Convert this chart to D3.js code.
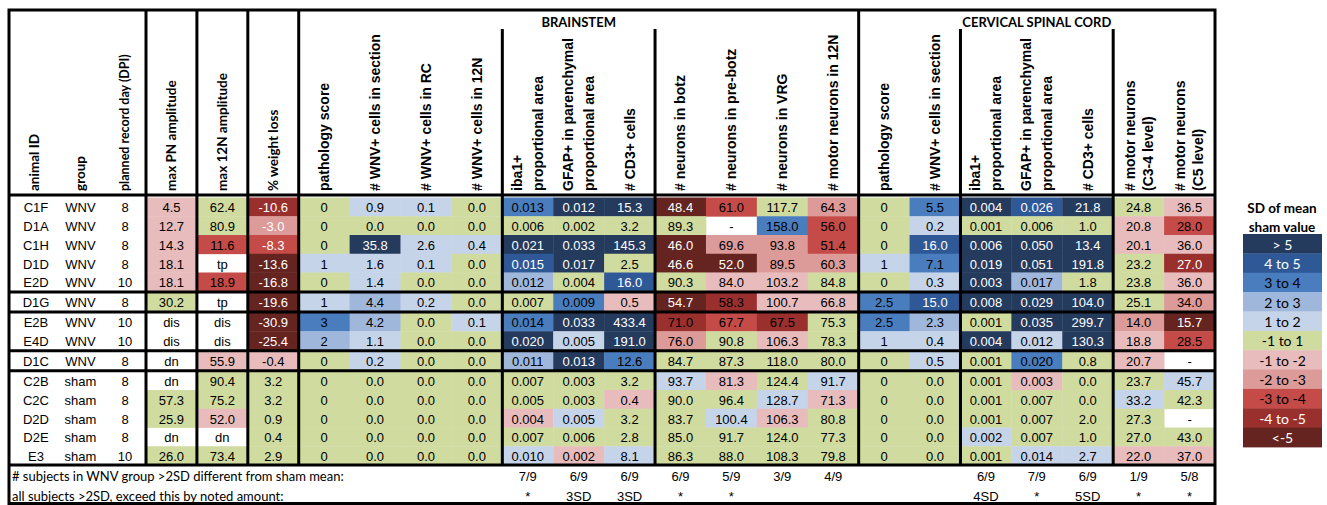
<!DOCTYPE html>
<html>
<head>
<meta charset="utf-8">
<script src="https://cdn.jsdelivr.net/npm/d3@7"></script>
<style>
  body { margin: 0; background: #fff; }
  text { fill: #000; }
</style>
</head>
<body>
<svg id="chart" width="1327" height="505"></svg>
<script>
const animals = ['C1F', 'D1A', 'C1H', 'D1D', 'E2D', 'D1G', 'E2B', 'E4D', 'D1C', 'C2B', 'C2C', 'D2D', 'D2E', 'E3']
const groups = ['WNV', 'WNV', 'WNV', 'WNV', 'WNV', 'WNV', 'WNV', 'WNV', 'WNV', 'sham', 'sham', 'sham', 'sham', 'sham']
const recordDay = ['8', '8', '8', '8', '10', '8', '10', '10', '8', '8', '8', '8', '8', '10']
const rowBlock = [0, 0, 0, 0, 0, 1, 2, 2, 3, 4, 4, 4, 4, 4]

const idHeaders = ['animal ID', 'group', 'planned record day (DPI)']
const columnHeaders = [
  ['max PN amplitude'], ['max 12N amplitude'], ['% weight loss'],
  ['pathology score'], ['# WNV+ cells in section'], ['# WNV+ cells in RC'], ['# WNV+ cells in 12N'],
  ['iba1+', 'proportional area'], ['GFAP+ in parenchymal', 'proportional area'], ['# CD3+ cells'],
  ['# neurons in botz'], ['# neurons in pre-botz'], ['# neurons in VRG'], ['# motor neurons in 12N'],
  ['pathology score'], ['# WNV+ cells in section'],
  ['iba1+', 'proportional area'], ['GFAP+ in parenchymal', 'proportional area'], ['# CD3+ cells'],
  ['# motor neurons', '(C3-4 level)'], ['# motor neurons', '(C5 level)']
]
const regions = [
  {name: 'BRAINSTEM', first: 3, last: 13},
  {name: 'CERVICAL SPINAL CORD', first: 14, last: 20}
]

const values = [
  ['4.5','62.4','-10.6','0','0.9','0.1','0.0','0.013','0.012','15.3','48.4','61.0','117.7','64.3','0','5.5','0.004','0.026','21.8','24.8','36.5'],
  ['12.7','80.9','-3.0','0','0.0','0.0','0.0','0.006','0.002','3.2','89.3','-','158.0','56.0','0','0.2','0.001','0.006','1.0','20.8','28.0'],
  ['14.3','11.6','-8.3','0','35.8','2.6','0.4','0.021','0.033','145.3','46.0','69.6','93.8','51.4','0','16.0','0.006','0.050','13.4','20.1','36.0'],
  ['18.1','tp','-13.6','1','1.6','0.1','0.0','0.015','0.017','2.5','46.6','52.0','89.5','60.3','1','7.1','0.019','0.051','191.8','23.2','27.0'],
  ['18.1','18.9','-16.8','0','1.4','0.0','0.0','0.012','0.004','16.0','90.3','84.0','103.2','84.8','0','0.3','0.003','0.017','1.8','23.8','36.0'],
  ['30.2','tp','-19.6','1','4.4','0.2','0.0','0.007','0.009','0.5','54.7','58.3','100.7','66.8','2.5','15.0','0.008','0.029','104.0','25.1','34.0'],
  ['dis','dis','-30.9','3','4.2','0.0','0.1','0.014','0.033','433.4','71.0','67.7','67.5','75.3','2.5','2.3','0.001','0.035','299.7','14.0','15.7'],
  ['dis','dis','-25.4','2','1.1','0.0','0.0','0.020','0.005','191.0','76.0','90.8','106.3','78.3','1','0.4','0.004','0.012','130.3','18.8','28.5'],
  ['dn','55.9','-0.4','0','0.2','0.0','0.0','0.011','0.013','12.6','84.7','87.3','118.0','80.0','0','0.5','0.001','0.020','0.8','20.7','-'],
  ['dn','90.4','3.2','0','0.0','0.0','0.0','0.007','0.003','3.2','93.7','81.3','124.4','91.7','0','0.0','0.001','0.003','0.0','23.7','45.7'],
  ['57.3','75.2','3.2','0','0.0','0.0','0.0','0.005','0.003','0.4','90.0','96.4','128.7','71.3','0','0.0','0.001','0.007','0.0','33.2','42.3'],
  ['25.9','52.0','0.9','0','0.0','0.0','0.0','0.004','0.005','3.2','83.7','100.4','106.3','80.8','0','0.0','0.001','0.007','2.0','27.3','-'],
  ['dn','dn','0.4','0','0.0','0.0','0.0','0.007','0.006','2.8','85.0','91.7','124.0','77.3','0','0.0','0.002','0.007','1.0','27.0','43.0'],
  ['26.0','73.4','2.9','0','0.0','0.0','0.0','0.010','0.002','8.1','86.3','88.0','108.3','79.8','0','0.0','0.001','0.014','2.7','22.0','37.0']
]

// SD-of-sham-mean band of each cell (null = no fill)
const sdBand = [
  [-1,0,-4,0,1,1,0,3,5,5,-5,-3,0,-2,0,3,5,4,5,0,-1],
  [-1,0,-2,0,0,0,0,0,0,0,0,null,3,-3,0,1,0,0,0,-1,-3],
  [-1,-3,-3,0,5,1,1,5,5,5,-5,-2,-2,-3,0,4,5,5,5,-1,-1],
  [-1,null,-5,1,1,1,0,4,5,0,-5,-5,-2,-2,1,3,5,5,5,0,-4],
  [-1,-3,-5,0,1,0,0,2,0,4,0,-1,-1,0,0,1,5,2,0,0,-1],
  [0,null,-5,1,2,1,0,0,3,-1,-5,-4,-1,-1,3,4,5,5,5,0,-2],
  [null,null,-5,3,2,0,1,3,5,5,-4,-3,-4,0,3,2,0,5,5,-2,-5],
  [null,null,-5,2,1,0,0,5,1,5,-2,0,-1,0,1,1,5,1,5,-1,-3],
  [null,-1,-1,0,1,0,0,2,5,3,0,0,0,0,0,1,0,3,0,-1,null],
  [null,0,0,0,0,0,0,0,0,0,1,-1,0,1,0,0,0,-1,0,0,1],
  [0,0,0,0,0,0,0,0,0,-1,0,0,1,-1,0,0,0,0,0,1,0],
  [0,-1,0,0,0,0,0,-1,1,0,0,1,-1,0,0,0,0,0,0,0,null],
  [null,null,0,0,0,0,0,0,0,0,0,0,0,0,0,0,1,0,0,0,0],
  [0,0,0,0,0,0,0,1,-1,1,0,0,0,0,0,0,0,1,1,-1,-1]
]

const footLabels = ['# subjects in WNV group >2SD different from sham mean:', 'all subjects >2SD, exceed this by noted amount:']
const subjectCounts = ['','','','','','','','7/9','6/9','6/9','6/9','5/9','3/9','4/9','','','6/9','7/9','6/9','1/9','5/8']
const exceedBy = ['','','','','','','','*','3SD','3SD','*','*','','','','','4SD','*','5SD','*','*']

const legendBands = [5, 4, 3, 2, 1, 0, -1, -2, -3, -4, -5]
const legendLabels = ['> 5', '4 to 5', '3 to 4', '2 to 3', '1 to 2', '-1 to 1', '-1 to -2', '-2 to -3', '-3 to -4', '-4 to -5', '<-5']
const legendTitle = ['SD of mean', 'sham value']

// ---- scales ----
const color = d3.scaleOrdinal(legendBands,
  ['#243b5e', '#2f5896', '#4a7dbe', '#a0b7dc', '#c6d4ea', '#d0dba0',
   '#e8bcbc', '#dc9a98', '#c44b47', '#9a302e', '#652420'])

const x = d3.scaleBand(d3.range(columnHeaders.length), [146, 1215])
const idX = d3.scaleOrdinal([0, 1, 2], [34, 80.5, 125])
const rowH = 18.75, blockGap = 1.25
const rowBand = d3.scaleBand(d3.range(animals.length), [197.5, 197.5 + animals.length * rowH])
const rowTop = i => rowBand(i) + rowBlock[i] * blockGap
const legendY = d3.scaleBand(legendBands, [234, 447])

const lightText = (lv, c) => lv >= 4 || lv <= -5 || (lv === -4 && (c < 10 || c > 13)) || (c === 2 && lv <= -2)

const svg = d3.select('#chart')
const arial = '"Liberation Sans", Arial, sans-serif'
const calibri = 'Lato, "Open Sans", sans-serif'

// ---- cells ----
const cells = values.flatMap((row, i) => row.map((v, c) => ({i, c, v, lv: sdBand[i][c]})))

svg.append('g').selectAll('rect')
  .data(cells.filter(d => d.lv !== null))
  .join('rect')
    .attr('x', d => x(d.c))
    .attr('y', d => rowTop(d.i))
    .attr('width', x.bandwidth() + 0.4)
    .attr('height', rowH + 0.4)
    .attr('fill', d => color(d.lv))

svg.append('g').selectAll('text')
  .data(cells)
  .join('text')
    .attr('x', d => x(d.c) + x.bandwidth() / 2)
    .attr('y', d => rowTop(d.i) + rowH / 2 + 1)
    .attr('dy', '0.35em')
    .attr('text-anchor', 'middle')
    .style('font', `13px ${arial}`)
    .style('fill', d => d.lv !== null && lightText(d.lv, d.c) ? '#fff' : '#000')
    .text(d => d.v)

// id columns
const idCols = [animals, groups, recordDay]
idCols.forEach((col, k) => {
  svg.append('g').selectAll('text')
    .data(col)
    .join('text')
      .attr('x', idX(k) + (k === 0 ? 2 : 0))
      .attr('y', (d, i) => rowTop(i) + rowH / 2 + 1)
      .attr('dy', '0.35em')
      .attr('text-anchor', 'middle')
      .style('font', `13px ${arial}`)
      .text(d => d)
})

// ---- headers ----
const headerBase = 191
idHeaders.forEach((h, k) => {
  svg.append('text')
    .attr('transform', `translate(${idX(k)},${headerBase}) rotate(-90)`)
    .attr('dy', '0.35em')
    .style('font', `bold ${k === 2 ? 12.5 : 13.5}px ${calibri}`)
    .text(h)
})

const headerG = svg.append('g').selectAll('g')
  .data(columnHeaders)
  .join('g')
    .attr('transform', (d, c) => `translate(${x(c) + x.bandwidth() / 2},${headerBase}) rotate(-90)`)

headerG.selectAll('text')
  .data((d, c) => d.map((line, j) => ({line, j, n: d.length, c})))
  .join('text')
    .attr('y', d => (d.j - (d.n - 1) / 2) * (d.c >= 19 ? 18 : 21))
    .attr('dy', '0.35em')
    .style('font', d => d.c < 3 ? `bold 13.5px ${calibri}` : `bold 14px ${arial}`)
    .text(d => d.line)

svg.append('g').selectAll('text')
  .data(regions)
  .join('text')
    .attr('x', d => (x(d.first) + x(d.last) + x.bandwidth()) / 2)
    .attr('y', 22)
    .attr('dy', '0.35em')
    .attr('text-anchor', 'middle')
    .style('font', `bold 13px ${calibri}`)
    .text(d => d.name)

// ---- footer rows ----
const footY = [476, 496]
footLabels.forEach((t, k) => {
  svg.append('text')
    .attr('x', 12).attr('y', footY[k]).attr('dy', '0.35em')
    .style('font', `13px ${calibri}`)
    .text(t)
})
;[subjectCounts, exceedBy].forEach((row, k) => {
  svg.append('g').selectAll('text')
    .data(row)
    .join('text')
      .attr('x', (d, c) => x(c) + x.bandwidth() / 2)
      .attr('y', footY[k])
      .attr('dy', '0.35em')
      .attr('text-anchor', 'middle')
      .style('font', `13px ${arial}`)
      .text(d => d)
})

// ---- grid lines ----
const lines = svg.append('g').attr('stroke', '#000').attr('stroke-width', 3)
const bodyBottom = rowTop(animals.length - 1) + rowH
lines.append('rect')
  .attr('x', 9).attr('y', 10).attr('width', 1206).attr('height', 493.5)
  .attr('fill', 'none')
lines.append('line').attr('x1', 9).attr('x2', 1215).attr('y1', 195).attr('y2', 195)
lines.append('line').attr('x1', 9).attr('x2', 1215).attr('y1', bodyBottom).attr('y2', bodyBottom)
d3.range(1, animals.length).filter(i => rowBlock[i] !== rowBlock[i - 1]).forEach(i => {
  const yy = (rowTop(i) + rowTop(i - 1) + rowH) / 2
  lines.append('line').attr('x1', 9).attr('x2', 1215).attr('y1', yy).attr('y2', yy)
})
// full-height column rules
;[0, 1, 2, 3].concat([regions[1].first]).forEach(c => {
  lines.append('line').attr('x1', x(c)).attr('x2', x(c)).attr('y1', 10).attr('y2', bodyBottom)
})
// sub-group rules beneath the region titles
;[7, 10, 16, 19].forEach(c => {
  lines.append('line').attr('x1', x(c)).attr('x2', x(c)).attr('y1', 29).attr('y2', bodyBottom)
})

// ---- legend ----
const legend = svg.append('g')
legendTitle.forEach((t, k) => {
  legend.append('text')
    .attr('x', 1282).attr('y', 208 + k * 19).attr('dy', '0.35em')
    .attr('text-anchor', 'middle')
    .style('font', `bold 13.5px ${calibri}`)
    .text(t)
})
legend.selectAll('rect')
  .data(legendBands)
  .join('rect')
    .attr('x', 1243).attr('width', 79)
    .attr('y', d => legendY(d)).attr('height', legendY.bandwidth() + 0.4)
    .attr('fill', d => color(d))
legend.selectAll('text.lab')
  .data(legendBands)
  .join('text')
    .attr('class', 'lab')
    .attr('x', 1282.5)
    .attr('y', d => legendY(d) + legendY.bandwidth() / 2 + 1)
    .attr('dy', '0.35em')
    .attr('text-anchor', 'middle')
    .style('font', `14px ${calibri}`)
    .style('fill', d => Math.abs(d) >= 4 ? '#fff' : '#000')
    .text((d, k) => legendLabels[k])
</script>
</body>
</html>
